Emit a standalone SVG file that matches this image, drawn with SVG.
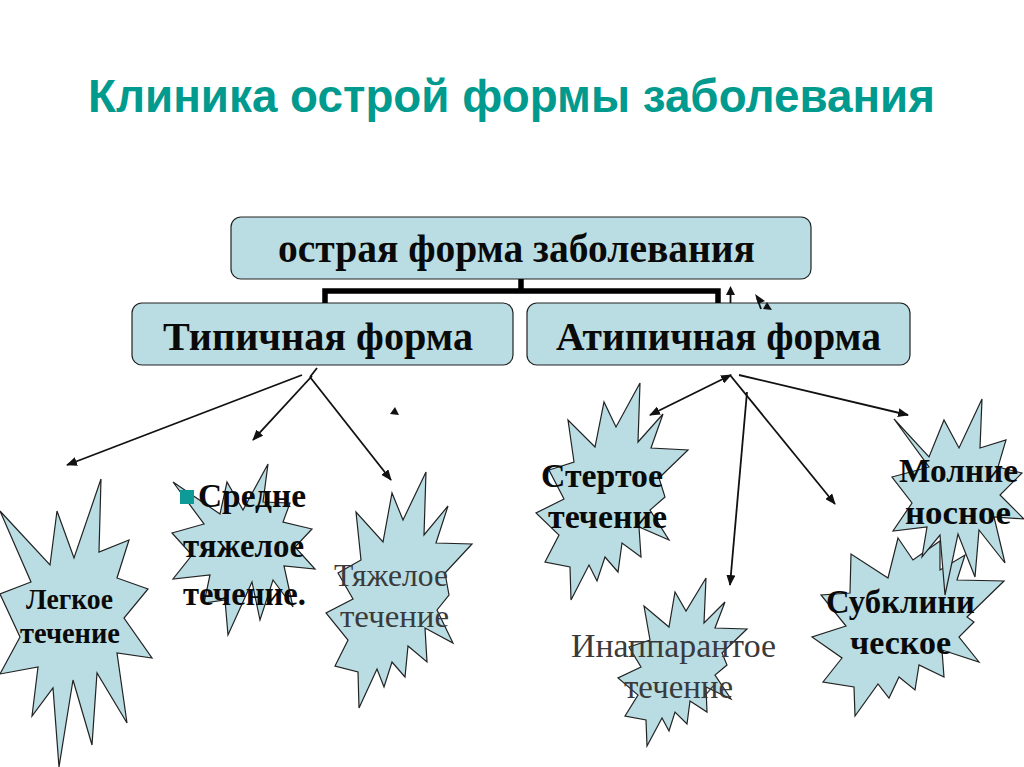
<svg xmlns="http://www.w3.org/2000/svg" width="1024" height="767" viewBox="0 0 1024 767">
<style>
.box{fill:#b9dde3;stroke:#222;stroke-width:1.2}
.star{fill:#b9dde3;stroke:#222;stroke-width:1.2;stroke-linejoin:miter}
text{font-family:"Liberation Serif",serif;fill:#0a0a0a}
.h{font-size:39px;font-weight:bold}
.b{font-size:34px;font-weight:bold}
.l{font-size:29px;font-weight:bold}
.n{font-size:32px;fill:#3a3a3a}
.t{font-family:"Liberation Sans",sans-serif;font-size:46px;font-weight:bold;fill:#009a8e}
.a{stroke:#111;stroke-width:1.8;fill:none}
.th{stroke:#000;stroke-width:5.5;fill:none}
</style>
<defs>
<marker id="e" markerWidth="11" markerHeight="9" refX="10" refY="4.5" orient="auto" markerUnits="userSpaceOnUse"><path d="M0 0L11 4.5L0 9Z" fill="#111"/></marker>
<marker id="s" markerWidth="11" markerHeight="9" refX="1" refY="4.5" orient="auto" markerUnits="userSpaceOnUse"><path d="M11 0L0 4.5L11 9Z" fill="#111"/></marker>
</defs>
<rect width="1024" height="767" fill="#fff"/>
<text id="title" class="t" x="88" y="112" textLength="847" lengthAdjust="spacingAndGlyphs">Клиника острой формы заболевания</text>
<g id="n-root"><rect class="box" x="231" y="217" width="580" height="62" rx="10"/><text class="h" x="278" y="262" textLength="477" lengthAdjust="spacingAndGlyphs">острая форма заболевания</text></g>
<g id="n-typical"><rect class="box" x="132" y="303" width="381" height="62" rx="10"/><text class="h" x="163" y="350" textLength="310" lengthAdjust="spacingAndGlyphs">Типичная форма</text></g>
<g id="n-atypical"><rect class="box" x="527" y="303" width="383" height="62" rx="10"/><text class="h" x="556" y="350" textLength="325" lengthAdjust="spacingAndGlyphs">Атипичная форма</text></g>
<g id="n-light"><polygon class="star" points="101,479 99,552 129,540 117,578 148,589 124,618 152,658 117,653 127,723 97,673 92,745 73,680 59,767 53,688 32,716 38,667 0,674 20,637 0,594 31,582 0,511 50,565 57,511 74,558"/><text class="l" x="26" y="609" textLength="87" lengthAdjust="spacingAndGlyphs">Легкое</text><text class="l" x="20" y="643" textLength="100" lengthAdjust="spacingAndGlyphs">течение</text></g>
<g id="n-medium"><polygon class="star" points="268,464 263,502 290,503 283,522 312,529 295,547 315,569 284,566 293,607 273,580 260,620 252,582 228,635 225,600 204,603 210,575 173,579 192,555 172,533 204,524 173,482 220,514 227,482 243,510"/><rect x="180" y="490" width="14" height="14" fill="#0e9a96"/><text class="b" x="198" y="507" textLength="108" lengthAdjust="spacingAndGlyphs">Средне</text><text class="b" x="183" y="557" textLength="121" lengthAdjust="spacingAndGlyphs">тяжелое</text><text class="b" x="183" y="605" textLength="123" lengthAdjust="spacingAndGlyphs">течение.</text></g>
<g id="n-severe"><polygon class="star" points="426,472 424,535 448,506 436,543 472,544 445,573 449,595 437,610 453,643 425,628 427,662 408,646 405,677 392,662 384,687 377,669 359,708 358,672 335,666 348,640 326,613 353,599 338,573 361,560 356,512 383,542 392,493 403,520"/><text class="n" x="334" y="586" textLength="114" lengthAdjust="spacingAndGlyphs">Тяжелое</text><text class="n" x="340" y="627" textLength="109" lengthAdjust="spacingAndGlyphs">течение</text></g>
<g id="n-erased"><polygon class="star" points="640,383 638,442 663,414 651,448 688,450 659,478 665,497 650,510 669,540 639,527 641,557 622,543 618,572 605,557 597,581 589,565 571,600 570,567 545,562 559,535 536,513 564,499 549,470 574,462 568,420 595,447 604,402 616,427"/><text class="b" x="541" y="487" textLength="122" lengthAdjust="spacingAndGlyphs">Стертое</text><text class="b" x="548" y="528" textLength="119" lengthAdjust="spacingAndGlyphs">течение</text></g>
<g id="n-inapparent"><polygon class="star" points="706,578 704,623 725,602 715,628 747,629 722,653 727,665 715,675 731,699 706,687 707,712 690,701 687,724 675,712 669,731 662,718 647,746 646,720 625,716 638,695 618,678 641,667 629,647 650,640 644,606 669,627 675,592 686,611"/><text class="n" x="571" y="657" textLength="205" lengthAdjust="spacingAndGlyphs" style="font-size:34px">Инаппарантое</text><text class="n" x="624" y="698" textLength="109" lengthAdjust="spacingAndGlyphs" style="font-size:33px">течение</text></g>
<g id="n-subclinical"><polygon class="star" points="898,538 913,560 940,541 940,570 965,555 957,580 1004,581 967,617 974,622 959,637 979,662 942,650 944,677 919,665 915,690 899,677 889,698 878,684 855,716 854,687 823,682 842,658 812,637 846,626 821,595 850,593 851,554 888,578"/></g>
<g id="n-fulminant"><polygon class="star" points="982,399 980,448 1006,440 998,467 1022,473 1000,495 1024,519 994,517 1005,563 979,530 975,577 958,534 945,595 940,535 922,557 927,527 893,531 912,503 892,477 929,467 894,419 929,457 944,420 959,448"/><text class="b" x="899" y="482" textLength="119" lengthAdjust="spacingAndGlyphs">Молние</text><text class="b" x="905" y="524" textLength="106" lengthAdjust="spacingAndGlyphs">носное</text></g>
<g id="n-subclinical-label"><text class="b" x="826" y="613" textLength="149" lengthAdjust="spacingAndGlyphs">Субклини</text><text class="b" x="850" y="654" textLength="101" lengthAdjust="spacingAndGlyphs">ческое</text></g>
<g id="connectors">
<path class="th" d="M521 279V291M325 303V291H718V303"/>
<path class="a" d="M730.500 303V292"/>
<path d="M730.500 286L735 295H726Z" fill="#111"/>
<path class="a" d="M757 298L761 309"/>
<path d="M755 294L765 301L758 304Z" fill="#111"/>
<path d="M772 310L763 309L767 302Z" fill="#111"/>
<path class="a" marker-end="url(#e)" d="M302 375L67 465"/>
<path class="a" d="M317 368L310 377"/>
<path class="a" marker-end="url(#e)" d="M312 376L253 440"/>
<path class="a" marker-end="url(#e)" d="M310 377L391 480"/>
<path d="M395 407L390 414L399 415Z" fill="#111"/>
<path class="a" marker-start="url(#s)" marker-end="url(#e)" d="M650 415L731 375"/>
<path class="a" marker-end="url(#e)" d="M730 375L835 504"/>
<path class="a" marker-end="url(#e)" d="M747 392L730 585"/>
<path class="a" marker-end="url(#e)" d="M739 375L908 415"/>
</g>
</svg>
